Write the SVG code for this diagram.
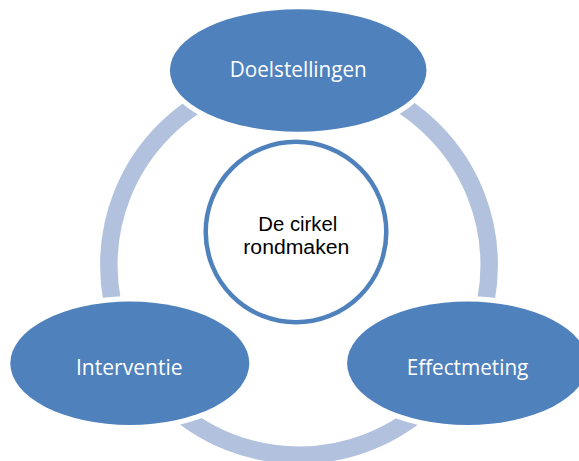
<svg xmlns="http://www.w3.org/2000/svg" width="579" height="461" viewBox="0 0 579 461">
  <style>
    .ring { fill: none; stroke: #B2C2DE; stroke-width: 17.5; }
    .halo { fill: #FFFFFF; }
    .node { fill: #4F81BD; }
    .center { fill: #FFFFFF; stroke: #4F81BD; stroke-width: 4.5; }
    .lbl { font-family: "Open Sans", "Noto Sans", sans-serif; font-size: 21px; fill: #FFFFFF; text-anchor: middle; }
    .ctr { font-family: "Liberation Sans", Arial, sans-serif; font-size: 20px; fill: #000000; text-anchor: middle; }
  </style>
  <rect width="579" height="461" fill="#FFFFFF"/>
  <g id="connectors">
    <circle class="ring" cx="299" cy="265" r="190.2"/>
  </g>
  <g id="center-node">
    <circle class="center" cx="296" cy="232" r="90.3"/>
    <text class="ctr" x="297.8" y="230.5" textLength="79" lengthAdjust="spacingAndGlyphs">De cirkel</text>
    <text class="ctr" x="296.3" y="253.5" textLength="106" lengthAdjust="spacingAndGlyphs">rondmaken</text>
  </g>
  <g id="node-doelstellingen">
    <ellipse class="halo" cx="298.2" cy="70.5" rx="133.5" ry="66.5"/>
    <ellipse class="node" cx="298.2" cy="70.5" rx="128.3" ry="61.2"/>
    <text class="lbl" x="298.3" y="77" textLength="137" lengthAdjust="spacingAndGlyphs">Doelstellingen</text>
  </g>
  <g id="node-interventie">
    <ellipse class="halo" cx="129.8" cy="363.3" rx="124.7" ry="67"/>
    <ellipse class="node" cx="129.8" cy="363.3" rx="119.5" ry="61.7"/>
    <text class="lbl" x="129.3" y="375" textLength="106.7" lengthAdjust="spacingAndGlyphs">Interventie</text>
  </g>
  <g id="node-effectmeting">
    <ellipse class="halo" cx="467.3" cy="363.3" rx="125.4" ry="67"/>
    <ellipse class="node" cx="467.3" cy="363.3" rx="120.2" ry="61.7"/>
    <text class="lbl" x="467.5" y="375" textLength="121.7" lengthAdjust="spacingAndGlyphs">Effectmeting</text>
  </g>
</svg>
